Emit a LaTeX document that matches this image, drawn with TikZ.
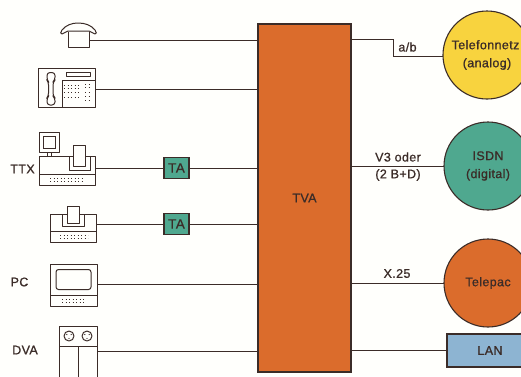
\documentclass[tikz,border=0pt]{standalone}
\usepackage{fontspec}
\setmainfont[LetterSpace=3,FakeBold=0.9]{Liberation Sans}
\definecolor{ink}{HTML}{3B2C28}
\definecolor{tvaorange}{HTML}{DB6C2C}
\definecolor{netyellow}{HTML}{F8D33E}
\definecolor{netteal}{HTML}{4FA88F}
\definecolor{lanblue}{HTML}{8DB4D2}
\definecolor{paper}{HTML}{FFFFFC}
\tikzset{
  wire/.style={draw=ink,line width=1pt},
  icon/.style={draw=ink,line width=1pt,line join=round},
  iconthin/.style={draw=ink,line width=0.9pt},
  dotrow/.style={draw=ink,line width=1pt,dash pattern=on 1.3pt off 2.2pt},
  lbl/.style={text=ink,font=\fontsize{12.5}{14}\selectfont,inner sep=0pt,align=center},
  netcircle/.style={circle,draw=ink,line width=1.1pt,minimum size=88pt,inner sep=0pt,outer sep=0pt,text=ink,font=\fontsize{12.5}{18}\selectfont,align=center},
  tabox/.style={rectangle,draw=ink,line width=1.3pt,fill=netteal,minimum width=25pt,minimum height=21pt,inner sep=0pt,outer sep=0pt,text=ink,font=\fontsize{13.5}{14}\selectfont}
}
\begin{document}
\begin{tikzpicture}[x=1pt,y=-1pt]
\useasboundingbox (0,0) rectangle (521,376);
\fill[paper] (0,0) rectangle (521,376);
\clip (0,0) rectangle (521,376);
% main block
\node[rectangle,draw=ink,line width=1.1pt,fill=tvaorange,minimum width=93pt,minimum height=348pt,inner sep=0pt,outer sep=0pt,text=ink,font=\fontsize{12.5}{14}\selectfont] (tva) at (304.5,198) {TVA};
% networks
\node[netcircle,fill=netyellow] (tel) at (487,55) {\hspace*{-3pt}Telefonnetz\\(analog)};
\node[netcircle,fill=netteal] (isdn) at (488,166) {ISDN\\(digital)};
\node[netcircle,fill=tvaorange] (tpc) at (488,283) {Telepac};
\node[rectangle,draw=ink,line width=1.2pt,fill=lanblue,minimum width=90pt,minimum height=33pt,inner sep=0pt,outer sep=0pt,text=ink,font=\fontsize{12.5}{14}\selectfont] (lan) at (492,350.5) {\hspace*{-4pt}LAN};
% TAs
\node[tabox] (ta1) at (176.5,168) {TA};
\node[tabox] (ta2) at (176.5,224) {TA};
% device attachment points
\coordinate (dev1) at (90,40);
\coordinate (dev2) at (95,89);
\coordinate (dev3) at (96,168);
\coordinate (dev4) at (96,224);
\coordinate (dev5) at (97,284);
\coordinate (dev6) at (97,351);
\coordinate (ab1) at (393,39);
\coordinate (ab2) at (393,56);
% left connectors
\draw[wire] (dev1) -- (tva.west |- dev1);
\draw[wire] (dev2) -- (tva.west |- dev2);
\draw[wire] (dev3) -- (ta1.west);
\draw[wire] (ta1.east) -- (tva.west |- ta1.east);
\draw[wire] (dev4) -- (ta2.west);
\draw[wire] (ta2.east) -- (tva.west |- ta2.east);
\draw[wire] (dev5) -- (tva.west |- dev5);
\draw[wire] (dev6) -- (tva.west |- dev6);
% right connectors
\draw[wire] (tva.east |- ab1) -- (ab1) -- (ab2) -- (tel.west |- ab2);
\draw[wire] (tva.east |- isdn.west) -- (isdn.west);
\draw[wire] (tva.east |- tpc.west) -- (tpc.west);
\draw[wire] (tva.east |- lan.west) -- (lan.west);
% line labels
\node[lbl] (labab) at (407.5,47) {a/b};
\node[lbl] (labv3) at (398,157) {V3 oder};
\node[lbl] (labbd) at (398,175) {(2 B+D)};
\node[lbl] (labx) at (397,273.5) {X.25};
% device labels
\node[lbl] (labttx) at (22.5,169) {TTX};
\node[lbl] (labpc) at (19.5,282) {PC};
\node[lbl] (labdva) at (25,350) {DVA};
% telephone
\draw[icon] (68,32) -- (68,47) -- (89,47) -- (89,32);
\draw[icon] (68,31) -- (89,31) -- (95,34) .. controls (97,34.5) and (96.5,32) .. (95,30) .. controls (91,25) and (85,23) .. (78,23) .. controls (72,23) and (66,25) .. (62,30) .. controls (60.5,32) and (60,34.5) .. (62,34) -- cycle;
% feature phone
\draw[icon] (38.5,68) rectangle (95,107.5);
\draw[icon,rounded corners=3pt] (47,72.5) -- (55,72.5) -- (55,80) -- (53,82) -- (53,96) -- (55,98) -- (55,105) -- (47,105) -- (47,98) -- (48.5,96) -- (48.5,82) -- (47,80) -- cycle;
\draw[icon] (66,72) rectangle (90,76.5);
\draw[icon] (62,107.5) -- (62,80.5) -- (95,80.5);
\foreach \yy in {85,88.5,92,97}{\draw[dotrow] (64,\yy) -- (79,\yy);}
\foreach \yy in {84,87.5,92,96,100}{\draw[dotrow] (85,\yy) -- (90,\yy);}
% teletex with monitor
\draw[icon] (39.5,132.5) rectangle (59.5,152);
\draw[iconthin] (43,136.5) rectangle (55.5,148);
\draw[iconthin] (47,152) -- (47,156) (51,152) -- (51,156);
\draw[icon] (39.5,156) rectangle (95.5,185);
\draw[icon] (39.5,174.5) -- (95.5,174.5);
\draw[icon] (69.5,156) -- (69.5,170) -- (90,170) -- (90,156);
\draw[icon,fill=paper] (73.5,145) rectangle (85.5,166.5);
\draw[dotrow] (50,178.5) -- (84,178.5);
\draw[dotrow] (50,181.5) -- (84,181.5);
% teletex without monitor
\draw[icon] (50.5,214) rectangle (96,242);
\draw[icon] (50.5,231) -- (96,231);
\draw[icon] (62.5,214) -- (62.5,226) -- (84,226) -- (84,214);
\draw[icon,fill=paper] (67,206) rectangle (79.5,223);
\draw[dotrow] (60,235.5) -- (88,235.5);
\draw[dotrow] (60,238.5) -- (88,238.5);
% PC
\draw[icon] (50.5,264) rectangle (97,306);
\draw[icon] (50.5,295.5) -- (97,295.5);
\draw[icon,rounded corners=2.5pt] (56,269.5) rectangle (91,289.5);
\draw[dotrow] (62,299.5) -- (86,299.5);
\draw[dotrow] (62,302.5) -- (86,302.5);
% DVA
\draw[icon] (59,376.5) -- (59,326.5) -- (97,326.5) -- (97,376.5);
\draw[icon] (59,346) -- (97,346);
\draw[icon] (78,346) -- (78,376.5);
\foreach \xx in {69,87}{
  \draw[icon] (\xx,336) circle (5pt);
  \fill[ink] (\xx-2.2,334.5) circle (0.7pt) (\xx+2.2,334.5) circle (0.7pt) (\xx,338.5) circle (0.7pt);
}
\end{tikzpicture}
\end{document}
